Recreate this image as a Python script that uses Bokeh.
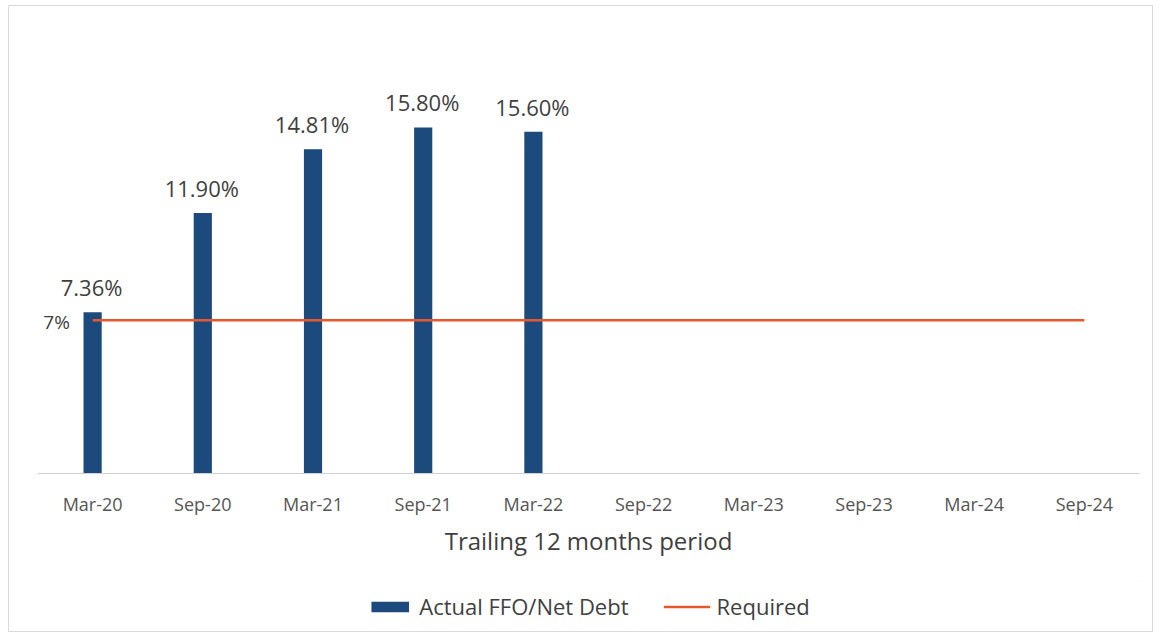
from bokeh.plotting import figure
from bokeh.layouts import column
from bokeh.models import ColumnDataSource, FactorRange, Range1d, Legend, LegendItem
from bokeh.core.properties import value
from bokeh.embed import file_html
from bokeh.resources import INLINE

periods = ["Mar-20", "Sep-20", "Mar-21", "Sep-21", "Mar-22",
           "Sep-22", "Mar-23", "Sep-23", "Mar-24", "Sep-24"]
actual_periods = ["Mar-20", "Sep-20", "Mar-21", "Sep-21", "Mar-22"]
actual_values = [7.36, 11.90, 14.81, 15.80, 15.60]
actual_labels = ["7.36%", "11.90%", "14.81%", "15.80%", "15.60%"]
required_values = [7, 7, 7, 7, 7, 7, 7, 7, 7, 7]
required_label = "7%"
series_names = ["Actual FFO/Net Debt", "Required"]

FONT = "Open Sans"
BAR = "#1c4a7c"
LINE = "#e8582c"
TXT = "#3f3f3f"

p = figure(frame_width=1102, frame_height=438, x_range=FactorRange(*periods, range_padding=0),
           y_range=Range1d(0, 20), output_backend="svg", toolbar_location=None,
           min_border_left=28, min_border_right=13, min_border_top=29, min_border_bottom=108)
p.outline_line_color = None
p.xgrid.grid_line_color = None
p.ygrid.grid_line_color = None
p.yaxis.visible = False

bars_src = ColumnDataSource(dict(x=actual_periods, y=actual_values, lab=actual_labels))
p.vbar(x="x", top="y", width=0.165, source=bars_src, fill_color=BAR, line_color=None)
p.line(x=periods, y=required_values, line_color=LINE, line_width=2.5)

p.text(x="x", y="y", text="lab", source=bars_src, text_align="center", text_baseline="bottom",
       y_offset=-10, x_offset=-1, text_font=value(FONT), text_font_size="22px", text_color=TXT)
p.text(x=[periods[0]], y=[required_values[0]], text=[required_label], text_align="center",
       text_baseline="middle", x_offset=-36, y_offset=2, text_font=value(FONT),
       text_font_size="19px", text_color=TXT)

ax = p.xaxis[0]
ax.axis_line_color = "#d0d0d0"
ax.major_tick_line_color = None
ax.minor_tick_line_color = None
ax.major_label_text_font = FONT
ax.major_label_text_font_size = "18px"
ax.major_label_text_color = "#555555"
ax.major_label_standoff = 12
ax.axis_label = "Trailing 12 months period"
ax.axis_label_text_font = FONT
ax.axis_label_text_font_size = "24px"
ax.axis_label_text_font_style = "normal"
ax.axis_label_text_color = TXT
ax.axis_label_standoff = 5

# legend strip below the chart (proxy renderers lie outside the visible range)
pl = figure(width=1143, height=50, x_range=Range1d(0, 1), y_range=Range1d(0, 1),
            output_backend="svg", toolbar_location=None, min_border=0)
pl.axis.visible = False
pl.grid.visible = False
pl.outline_line_color = None
lr_bar = pl.vbar(x=[5], top=[5], bottom=[4], width=0.1, fill_color=BAR, line_color=None)
lr_line = pl.line(x=[5, 6], y=[5, 5], line_color=LINE, line_width=2.5)
legend = Legend(items=[LegendItem(label=series_names[0], renderers=[lr_bar]),
                       LegendItem(label=series_names[1], renderers=[lr_line])],
                orientation="horizontal", location="center",
                label_text_font=FONT, label_text_font_size="22px", label_text_color=TXT,
                glyph_width=47, glyph_height=13, label_standoff=6, spacing=35,
                border_line_color=None, background_fill_alpha=0, padding=0, margin=0)
pl.add_layout(legend)

layout = column(p, pl, spacing=0,
                styles={"border": "1px solid #dadada", "margin-left": "8px", "margin-top": "5px"})

open("out.html", "w").write(file_html(layout, INLINE))
